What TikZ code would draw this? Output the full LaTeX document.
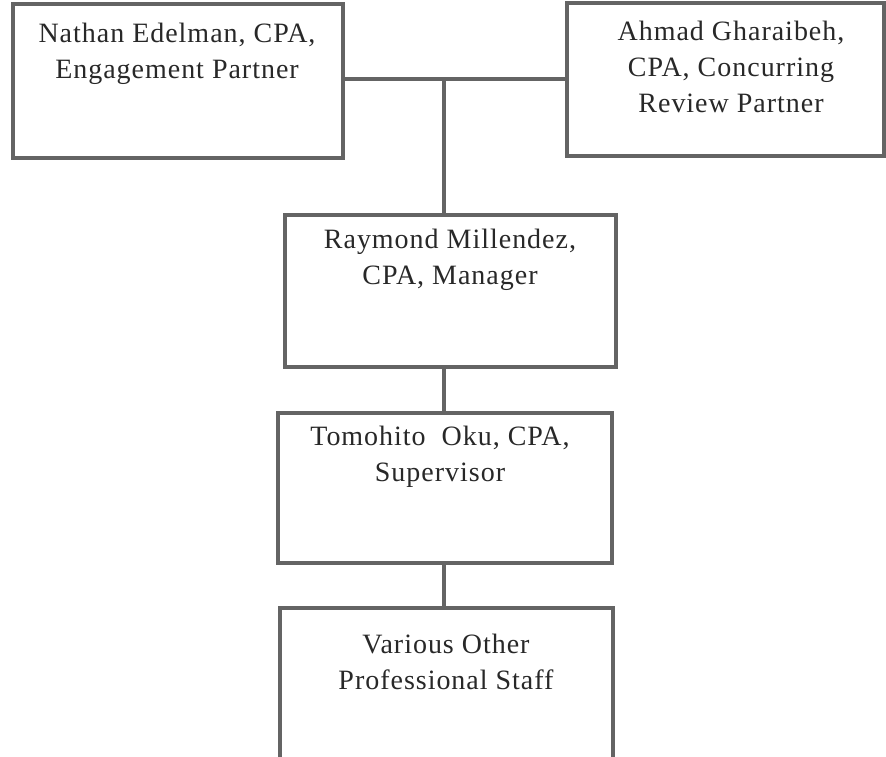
\documentclass[tikz,border=0pt]{standalone}
\usepackage{fontspec}
\setmainfont{Liberation Serif}[LetterSpace=3.5]
\definecolor{linegray}{RGB}{100,100,100}
\definecolor{textgray}{RGB}{40,40,40}
\begin{document}
\begin{tikzpicture}[x=1pt,y=-1pt,
  orgbox/.style={draw=linegray,line width=3.5pt,rectangle,inner sep=0pt},
  orgtext/.style={anchor=north,inner sep=0pt,align=center,text=textgray,
    font=\fontsize{28}{36}\selectfont},
  link/.style={draw=linegray,line width=3.5pt}]
\useasboundingbox (0,0) rectangle (886,756);
\clip (0,0) rectangle (886,756);
\fill[white] (0,0) rectangle (886,756);
% boxes
\node[orgbox,minimum width=330pt,minimum height=154pt] (nathan) at (178,81) {};
\node[orgbox,minimum width=317pt,minimum height=153pt] (ahmad) at (725.5,79.5) {};
\node[orgbox,minimum width=331pt,minimum height=152pt] (raymond) at (450.5,291) {};
\node[orgbox,minimum width=334pt,minimum height=150pt] (tomohito) at (445,488) {};
\node[orgbox,minimum width=333pt,minimum height=172pt] (various) at (446.5,694) {};
% texts
\node[orgtext] (tnathan) at (177,23) {Nathan Edelman, CPA,\\Engagement Partner};
\node[orgtext] (tahmad) at (731,21) {Ahmad Gharaibeh,\\CPA, Concurring\\Review Partner};
\node[orgtext] (traymond) at (450,229) {Raymond Millendez,\\CPA, Manager};
\node[orgtext] (ttomohito) at (440,426) {Tomohito\ \ Oku, CPA,\\Supervisor};
\node[orgtext] (tvarious) at (446,634) {Various Other\\Professional Staff};
% connectors
\coordinate (j) at (444,79);
\draw[link] (nathan.east |- j) -- (ahmad.west |- j);
\draw[link] (j) -- (raymond.north -| j);
\draw[link] (raymond.south -| j) -- (tomohito.north -| j);
\draw[link] (tomohito.south -| j) -- (various.north -| j);
\end{tikzpicture}
\end{document}
